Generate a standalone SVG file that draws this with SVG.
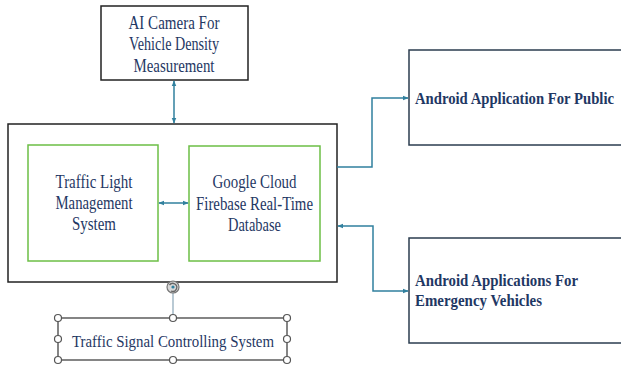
<svg xmlns="http://www.w3.org/2000/svg" width="621" height="369" viewBox="0 0 621 369">
<style>
text{font-family:"Liberation Serif","Times New Roman",serif;fill:#1f3864}
.n{font-size:18px;text-anchor:middle}
.b{font-size:17px;font-weight:bold}
.box{fill:#fff;stroke:#222;stroke-width:1.5}
.grn{fill:#fff;stroke:#6cbf46;stroke-width:1.5}
.app{fill:#fff;stroke:#2b3d4f;stroke-width:1.5}
.c{fill:none;stroke:#31809e;stroke-width:1.5}
.h{fill:#fff;stroke:#555;stroke-width:1.2}
</style>
<defs>
<marker id="a" viewBox="0 0 10 10" refX="9" refY="5" markerWidth="6" markerHeight="6" orient="auto-start-reverse" markerUnits="userSpaceOnUse">
<path d="M0,1 L10,5 L0,9 Z" fill="#31809e"/>
</marker>
</defs>
<rect width="621" height="369" fill="#fff"/>
<g id="main">
<rect class="box" x="8" y="124" width="329" height="158"/>
</g>
<g id="camera">
<rect class="box" x="101" y="6" width="147" height="74"/>
<text class="n" x="174" y="29" textLength="91" lengthAdjust="spacingAndGlyphs">AI Camera For</text>
<text class="n" x="174" y="50" textLength="90" lengthAdjust="spacingAndGlyphs">Vehicle Density</text>
<text class="n" x="174" y="72" textLength="81" lengthAdjust="spacingAndGlyphs">Measurement</text>
</g>
<g id="tlms">
<rect class="grn" x="28" y="145" width="130" height="116"/>
<text class="n" x="94" y="188" textLength="77" lengthAdjust="spacingAndGlyphs">Traffic Light</text>
<text class="n" x="94" y="209" textLength="77" lengthAdjust="spacingAndGlyphs">Management</text>
<text class="n" x="94" y="230" textLength="44" lengthAdjust="spacingAndGlyphs">System</text>
</g>
<g id="firebase">
<rect class="grn" x="189" y="146" width="131" height="115"/>
<text class="n" x="254.5" y="188" textLength="84" lengthAdjust="spacingAndGlyphs">Google Cloud</text>
<text class="n" x="254.5" y="210" textLength="117" lengthAdjust="spacingAndGlyphs">Firebase Real-Time</text>
<text class="n" x="254.5" y="231" textLength="53" lengthAdjust="spacingAndGlyphs">Database</text>
</g>
<g id="public">
<rect class="app" x="409" y="50" width="220" height="95"/>
<text class="b" x="415" y="104" textLength="199" lengthAdjust="spacingAndGlyphs">Android Application For Public</text>
</g>
<g id="emergency">
<rect class="app" x="409" y="238" width="220" height="105"/>
<text class="b" x="415" y="286" textLength="163" lengthAdjust="spacingAndGlyphs">Android Applications For</text>
<text class="b" x="415" y="306" textLength="127" lengthAdjust="spacingAndGlyphs">Emergency Vehicles</text>
</g>
<g id="signal">
<line x1="173" y1="293" x2="173" y2="318" stroke="#8aa6b8" stroke-width="1.2"/>
<rect x="58" y="318" width="229" height="42" fill="#fff" stroke="#444" stroke-width="1.3"/>
<text x="173" y="347" font-size="17" text-anchor="middle" textLength="202" lengthAdjust="spacingAndGlyphs" fill="#2f4d8a">Traffic Signal Controlling System</text>
<circle class="h" cx="58" cy="318" r="3.5"/>
<circle class="h" cx="173" cy="318" r="3.5"/>
<circle class="h" cx="287" cy="318" r="3.5"/>
<circle class="h" cx="58" cy="339" r="3.5"/>
<circle class="h" cx="287" cy="339" r="3.5"/>
<circle class="h" cx="58" cy="360" r="3.5"/>
<circle class="h" cx="173" cy="360" r="3.5"/>
<circle class="h" cx="287" cy="360" r="3.5"/>
<circle cx="173" cy="287" r="6" fill="#d8d8d8" stroke="#777" stroke-width="1.2"/>
<path d="M169.5,285 A4,4 0 1 1 171,291" fill="none" stroke="#666" stroke-width="1.3"/>
<circle cx="173" cy="287" r="1.6" fill="#31809e"/>
</g>
<g id="connectors">
<line class="c" x1="174" y1="81" x2="174" y2="123" marker-start="url(#a)" marker-end="url(#a)"/>
<line class="c" x1="159" y1="203" x2="188" y2="203" marker-start="url(#a)" marker-end="url(#a)"/>
<polyline class="c" points="337,167 372,167 372,98 408,98" marker-end="url(#a)"/>
<polyline class="c" points="408,291 373,291 373,226 338,226" marker-start="url(#a)" marker-end="url(#a)"/>
</g>
</svg>
